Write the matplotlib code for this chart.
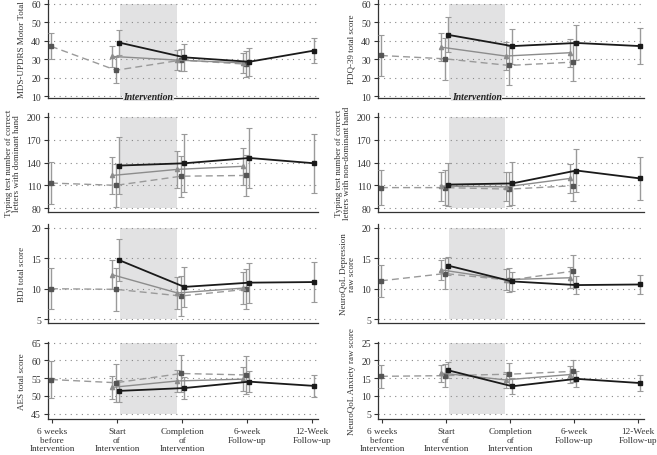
import numpy as np
import matplotlib
matplotlib.use("Agg")
from matplotlib import pyplot as plt

plt.rcParams['font.family'] = ['Liberation Serif', 'DejaVu Serif']

xlabels = ["6 weeks\nbefore\nIntervention", "Start\nof\nIntervention",
           "Completion\nof\nIntervention", "6-week\nFollow-up", "12-Week\nFollow-up"]

# x positions of each group (tick index)
x_dash = [0, 1, 2, 3]
x_gray = [1, 2, 3]
x_black = [1, 2, 3, 4]

ylabels = ["MDS-UPDRS Motor Total", "PDQ-39 total score",
           "Typing test number of correct\nletters with dominant hand",
           "Typing test number of correct\nletters with non-dominant hand",
           "BDI total score", "NeuroQoL Depression\nraw score",
           "AES total score", "NeuroQoL Anxiety raw score"]

# means / error half-widths, per panel
dash_m = [[37, 24, 29.5, 27.3], [32, 30.2, 26.6, 28.4], [113, 110, 122, 123], [107, 107, 105, 109.5],
          [10.0, 9.9, 8.8, 9.9], [11.3, 12.5, 11.4, 12.9], [54.6, 53.7, 56.3, 55.9], [15.5, 15.7, 16.1, 16.9]]
dash_e = [[7, 7, 6, 7], [11, 11.5, 10.5, 10.5], [28, 28, 27, 27], [23, 23, 22, 20],
          [3.4, 3.5, 3.3, 3.3], [2.6, 2.5, 2.0, 2.7], [5.3, 5.3, 5.3, 5.3], [3.2, 3.2, 3.1, 3.1]]
gray_m = [[31.5, 29.5, 28], [36.5, 31.7, 33.5], [123, 131, 135], [109, 108, 119],
          [12.3, 9.3, 10.1], [13.1, 11.5, 11.8], [52.4, 54.2, 54.7], [16.4, 14.5, 16.0]]
gray_e = [[5.5, 5.5, 5.5], [7.5, 7.5, 7.5], [24, 24.5, 24.5], [19, 19, 19.5],
          [2.4, 2.6, 2.6], [1.7, 1.7, 1.7], [3.3, 3.1, 3.3], [2.4, 2.3, 2.3]]
black_m = [[39, 31, 28.6, 34.7], [43.2, 37.1, 38.8, 37.1], [136, 139, 146, 139], [111, 112.5, 129.5, 119],
           [14.7, 10.3, 11.0, 11.1], [13.8, 11.2, 10.6, 10.7], [51.4, 52.2, 54.0, 52.8], [17.2, 12.7, 14.8, 13.6]]
black_e = [[7, 7.5, 7.5, 7], [9.5, 9.5, 9.5, 9.7], [38, 38, 39, 39], [28, 28, 28, 28],
           [3.4, 3.3, 3.3, 3.3], [1.5, 1.6, 1.5, 1.6], [3.2, 3.1, 3.0, 3.0], [2.2, 2.3, 2.3, 2.3]]

yticks = [[10, 20, 30, 40, 50, 60], [10, 20, 30, 40, 50, 60],
          [80, 110, 140, 170, 200], [80, 110, 140, 170, 200],
          [5, 10, 15, 20], [5, 10, 15, 20],
          [45, 50, 55, 60, 65], [5, 10, 15, 20, 25]]

W, H = 657, 456
fig = plt.figure(figsize=(W / 100, H / 100), dpi=100)

cols = [(48, 270), (378, 266)]
rows = [(0, 99), (114, 213), (225, 324), (343, 420)]
shade = '#e2e2e3'

for i in range(8):
    r, c = divmod(i, 2)
    x0, w = cols[c]
    top, bot = rows[r]
    ax = fig.add_axes([x0 / W, 1 - bot / H, w / W, (bot - top) / H])

    yt = yticks[i]
    lo, hi = yt[0], yt[-1]
    pxh = bot - top
    span = (hi - lo) * (pxh / (pxh - 6))
    if r == 0:
        ax.set_ylim(lo - 0.02 * span, hi + 0.05 * span)
    elif r == 3:
        ax.set_ylim(lo - 0.07 * span, lo + 0.93 * span)
    else:
        ax.set_ylim(lo - 0.04 * span, lo + 0.98 * span)
    ax.set_xlim(-0.06, 4.09)

    ax.fill_between([1.04, 1.92], lo, hi, color=shade, zorder=0, lw=0)

    for y in yt:
        ax.axhline(y, color='#888888', lw=0.8, ls=(0, (1, 4)), zorder=1)

    ek = dict(ecolor='#9a9a9a', elinewidth=1.0, capsize=2.5, capthick=0.8, zorder=3)
    ax.errorbar(np.array(x_dash) - 0.015, dash_m[i], yerr=dash_e[i], color='#9a9a9a', lw=1.0,
                ls=(0, (5, 3)), marker='s', ms=3, mfc='#555555', mec='#555555', **ek)
    ax.errorbar(np.array(x_gray) - 0.07, gray_m[i], yerr=gray_e[i], color='#8c8c8c', lw=1.0,
                marker='^', ms=3, mfc='#8c8c8c', mec='#8c8c8c', **ek)
    ax.errorbar(np.array(x_black) + 0.035, black_m[i], yerr=black_e[i], color='#1a1a1a', lw=1.3,
                marker='s', ms=3, mfc='#1a1a1a', mec='#1a1a1a', **ek)

    ax.set_yticks(yt)
    ax.tick_params(axis='y', labelsize=7, length=3, width=0.8, colors='#333333', pad=2)
    ax.set_ylabel(ylabels[i], fontsize=6.5, color='#333333', labelpad=4, linespacing=1.0)
    for s in ['top', 'right']:
        ax.spines[s].set_visible(False)
    for s in ['left', 'bottom']:
        ax.spines[s].set_color('#333333')
        ax.spines[s].set_linewidth(0.9)

    ax.set_xticks(range(5))
    if r == 3:
        ax.set_xticklabels(xlabels, fontsize=6.7, color='#333333', linespacing=1.05)
        ax.tick_params(axis='x', length=3, width=0.8, colors='#333333', pad=3)
    else:
        ax.set_xticklabels([])
        ax.tick_params(axis='x', length=0)

    if r == 0:
        ax.text(1.48, lo, "Intervention", fontsize=7, fontstyle='italic',
                fontweight='bold', ha='center', va='center', color='#222222', zorder=4,
                bbox=dict(facecolor=shade, edgecolor='none', pad=0.5))

plt.savefig('out.png', dpi=100)
